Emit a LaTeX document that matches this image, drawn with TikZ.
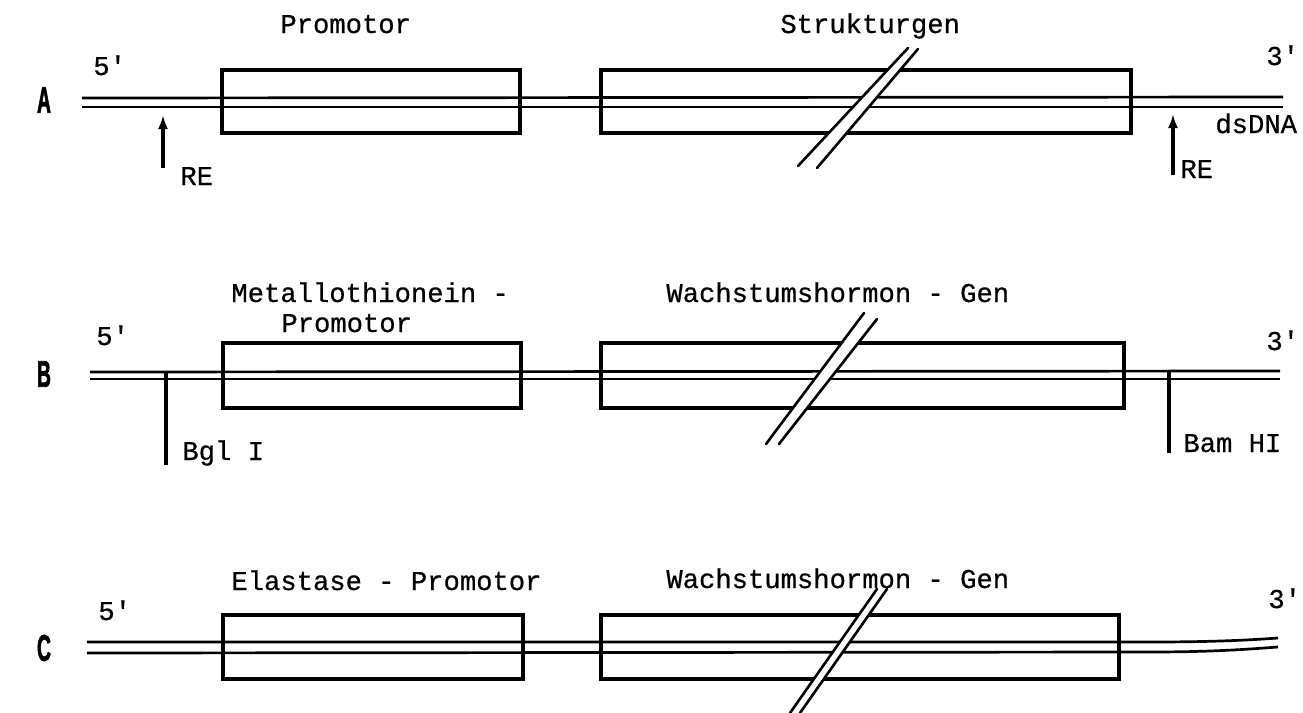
\documentclass[tikz,border=0pt]{standalone}
\usepackage{fontspec}
\setmonofont{Liberation Mono}[FakeBold=0.6]
\newfontfamily\lblfont{Liberation Sans Bold}[FakeBold=2.5]
\usetikzlibrary{arrows.meta}
\begin{document}
\begin{tikzpicture}[x=0.5pt,y=-0.5pt,
  txt/.style={font=\fontsize{13.6pt}{16pt}\ttfamily, inner sep=0pt, anchor=base west},
  rowlbl/.style={font=\fontsize{18.5pt}{22pt}\lblfont, inner sep=0pt},
  dna/.style={line width=1.35pt},
  genebox/.style={draw, line width=1.6pt},
  brk/.style={line width=1.3pt, line cap=round},
  brkfill/.style={fill=white, draw=none},
  site/.style={line width=1.6pt},
  sitearrow/.style={line width=1.6pt, -{Latex[length=7pt,width=5pt]}},
]
\useasboundingbox (0,0) rectangle (1303,713);

% ---------------- Row A ----------------
\node[rowlbl] (lblA) at (44,100) {\scalebox{0.52}[1]{A}};
\coordinate (a5t) at (82,98);   \coordinate (a3t) at (1283,97);
\coordinate (a5b) at (82,107);  \coordinate (a3b) at (1283,107);
\draw[dna] (a5t) -- (a3t);
\draw[dna] (a5b) -- (a3b);
\coordinate (ap1) at (222,70);  \coordinate (ap2) at (520,133);
\coordinate (as1) at (601,70);  \coordinate (as2) at (1131,133);
\draw[genebox] (ap1) rectangle (ap2);
\draw[genebox] (as1) rectangle (as2);
\coordinate (aR1s) at (163,168); \coordinate (aR1e) at (163,115);
\coordinate (aR2s) at (1173,175); \coordinate (aR2e) at (1173,114);
\draw[sitearrow] (aR1s) -- (aR1e);
\draw[sitearrow] (aR2s) -- (aR2e);
\coordinate (ab1) at (798,166); \coordinate (ab2) at (908,48);
\coordinate (ab3) at (817,168); \coordinate (ab4) at (918,49);
\fill[brkfill] (ab1) -- (ab2) -- (ab4) -- (ab3) -- cycle;
\draw[brk] (ab1) -- (ab2);
\draw[brk] (ab3) -- (ab4);
\node[txt] (aProm) at (280,33) {Promotor};
\node[txt] (aStruk) at (780,33) {Strukturgen};
\node[txt] (a5) at (93,75) {5'};
\node[txt] (a3) at (1266,65) {3'};
\node[txt] (aRE1) at (180,185) {RE};
\node[txt] (aRE2) at (1180,178) {RE};
\node[txt] (ads) at (1215,133) {dsDNA};

% ---------------- Row B ----------------
\node[rowlbl] (lblB) at (44,374) {\scalebox{0.52}[1]{B}};
\coordinate (b5t) at (90,372);  \coordinate (b3t) at (1280,371);
\coordinate (b5b) at (90,379);  \coordinate (b3b) at (1280,379);
\draw[dna] (b5t) -- (b3t);
\draw[dna] (b5b) -- (b3b);
\coordinate (bp1) at (223,343); \coordinate (bp2) at (521,408);
\coordinate (bs1) at (601,343); \coordinate (bs2) at (1124,408);
\draw[genebox] (bp1) rectangle (bp2);
\draw[genebox] (bs1) rectangle (bs2);
\coordinate (bBgT) at (166,372); \coordinate (bBgB) at (166,465);
\coordinate (bBaT) at (1169,372); \coordinate (bBaB) at (1169,453);
\draw[site] (bBgT) -- (bBgB);
\draw[site] (bBaT) -- (bBaB);
\coordinate (bb1) at (766,444); \coordinate (bb2) at (864,313);
\coordinate (bb3) at (779,444); \coordinate (bb4) at (877,319);
\fill[brkfill] (bb1) -- (bb2) -- (bb4) -- (bb3) -- cycle;
\draw[brk] (bb1) -- (bb2);
\draw[brk] (bb3) -- (bb4);
\node[txt] (bMet) at (231,302) {Metallothionein -};
\node[txt] (bProm) at (281,332) {Promotor};
\node[txt] (bWach) at (666,302) {Wachstumshormon - Gen};
\node[txt] (b5) at (96,345) {5'};
\node[txt] (b3) at (1266,350) {3'};
\node[txt] (bBgl) at (182,460) {Bgl I};
\node[txt] (bBam) at (1183,452) {Bam HI};

% ---------------- Row C ----------------
\node[rowlbl] (lblC) at (44,648) {\scalebox{0.52}[1]{C}};
\coordinate (c5t) at (87,642);  \coordinate (c3t) at (1278,638);
\coordinate (c5b) at (87,653);  \coordinate (c3b) at (1278,647);
\draw[dna] (c5t) -- (1150,642) .. controls (1215,642) and (1250,640) .. (c3t);
\draw[dna] (c5b) -- (1150,652) .. controls (1215,652) and (1250,649) .. (c3b);
\coordinate (cp1) at (223,615); \coordinate (cp2) at (523,679);
\coordinate (cs1) at (601,615); \coordinate (cs2) at (1119,679);
\draw[genebox] (cp1) rectangle (cp2);
\draw[genebox] (cs1) rectangle (cs2);
\coordinate (cb1) at (790,713); \coordinate (cb2) at (877,589);
\coordinate (cb3) at (800,713); \coordinate (cb4) at (887,589);
\fill[brkfill] (cb1) -- (cb2) -- (cb4) -- (cb3) -- cycle;
\draw[brk] (cb1) -- (cb2);
\draw[brk] (cb3) -- (cb4);
\node[txt] (cEla) at (231,590) {Elastase - Promotor};
\node[txt] (cWach) at (666,588) {Wachstumshormon - Gen};
\node[txt] (c5) at (98,620) {5'};
\node[txt] (c3) at (1268,608) {3'};
\end{tikzpicture}
\end{document}
